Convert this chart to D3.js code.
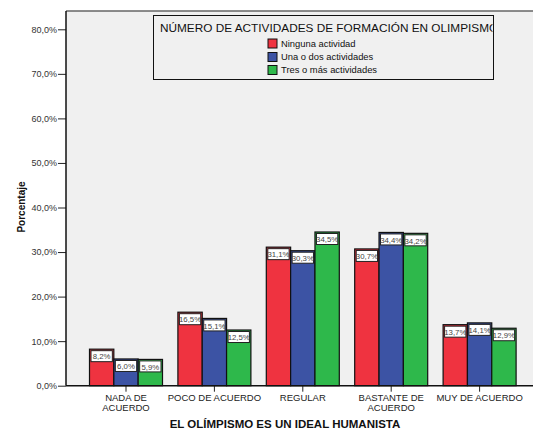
<!DOCTYPE html>
<html><head><meta charset="utf-8">
<script src="https://cdn.jsdelivr.net/npm/d3@7"></script>
<style>body{margin:0;background:#fff}svg{display:block;font-family:"Liberation Sans",Arial,sans-serif}</style>
</head><body>
<script>
const categories = [["NADA DE","ACUERDO"],["POCO DE ACUERDO"],["REGULAR"],["BASTANTE DE","ACUERDO"],["MUY DE ACUERDO"]];
const seriesNames = ["Ninguna actividad","Una o dos actividades","Tres o más actividades"];
const ninguna = [8.2, 16.5, 31.1, 30.7, 13.7];
const unaODos = [6.0, 15.1, 30.3, 34.4, 14.1];
const tresOMas = [5.9, 12.5, 34.5, 34.2, 12.9];
const yTicks = [0,10,20,30,40,50,60,70,80];
const colors = ["#ef3340","#3c53a4","#2eb84b"];
const series = [ninguna, unaODos, tresOMas];

const W=533,H=434;
const svg=d3.select("body").append("svg").attr("width",W).attr("height",H);
const pLeft=66, pTop=11, pBottom=385.7;
const y=d3.scaleLinear().domain([0,80]).range([pBottom,29.3]);
const catKeys=categories.map(c=>c.join(" "));
const x=d3.scaleBand().domain(catKeys).range([81.8,523.8]).padding(0);
const groupW=73;
const xs=d3.scaleBand().domain(d3.range(3)).range([0,groupW]);

// plot background
svg.append("rect").attr("x",pLeft).attr("y",pTop).attr("width",W-pLeft).attr("height",pBottom-pTop).attr("fill","#f0f0f0");
svg.append("line").attr("x1",pLeft).attr("x2",W).attr("y1",pTop).attr("y2",pTop).attr("stroke","#666").attr("stroke-width",1.5);

// bars
const fmt=v=>d3.format(".1f")(v).replace(".",",")+"%";
catKeys.forEach((k,i)=>{
  const g=svg.append("g").attr("transform",`translate(${x(k)+x.bandwidth()/2-groupW/2},0)`);
  series.forEach((s,j)=>{
    const bx=xs(j), bw=xs.bandwidth(), by=y(s[i]);
    g.append("rect").attr("x",bx).attr("y",by).attr("width",bw).attr("height",pBottom-by)
      .attr("fill",colors[j]).attr("stroke","#111").attr("stroke-width",1.2);
    g.append("rect").attr("x",bx+1.5).attr("y",by+1.5).attr("width",bw-3).attr("height",11)
      .attr("fill","#fff").attr("stroke","#222").attr("stroke-width",1);
    g.append("text").attr("x",bx+bw/2).attr("y",by+10.2).attr("text-anchor","middle")
      .attr("font-size",7.8).attr("fill","#444").text(fmt(s[i]));
  });
});

// y axis
const ya=svg.append("g").attr("transform",`translate(${pLeft},0)`)
  .call(d3.axisLeft(y).tickValues(yTicks).tickSize(8).tickPadding(1).tickFormat(v=>d3.format(".1f")(v).replace(".",",")+"%"));
ya.select(".domain").remove();
ya.selectAll("text").attr("font-size",9).attr("fill","#333").attr("font-family","Liberation Sans, Arial, sans-serif");
ya.selectAll("line").attr("stroke","#222");
svg.append("line").attr("x1",pLeft).attr("x2",pLeft).attr("y1",pTop).attr("y2",pBottom).attr("stroke","#111").attr("stroke-width",1.5);

// x axis
const xa=svg.append("g").attr("transform",`translate(0,${pBottom})`)
  .call(d3.axisBottom(x).tickSize(6).tickFormat(""));
xa.select(".domain").remove();
xa.selectAll("line").attr("stroke","#222");
svg.append("line").attr("x1",pLeft).attr("x2",W).attr("y1",pBottom).attr("y2",pBottom).attr("stroke","#111").attr("stroke-width",1.5);
categories.forEach((c,i)=>{
  const cx=x(catKeys[i])+x.bandwidth()/2;
  c.forEach((line,l)=>svg.append("text").attr("x",cx).attr("y",400.5+l*10).attr("text-anchor","middle")
    .attr("font-size",9.5).attr("fill","#222").text(line));
});

// titles
svg.append("text").attr("x",285).attr("y",428).attr("text-anchor","middle").attr("font-size",11.5).attr("font-weight","bold").attr("fill","#111").text("EL OLÍMPISMO ES UN IDEAL HUMANISTA");
svg.append("text").attr("transform","translate(25,207) rotate(-90)").attr("text-anchor","middle").attr("font-size",10).attr("font-weight","bold").attr("fill","#111").text("Porcentaje");

// legend
const lg={x:153.5,y:15.5,w:340,h:64};
svg.append("clipPath").attr("id","lgclip").append("rect").attr("x",lg.x).attr("y",lg.y).attr("width",lg.w-1).attr("height",lg.h);
svg.append("rect").attr("x",lg.x).attr("y",lg.y).attr("width",lg.w).attr("height",lg.h).attr("fill","#f0f0f0").attr("stroke","#111").attr("stroke-width",1);
svg.append("text").attr("clip-path","url(#lgclip)").attr("x",160).attr("y",31.5).attr("font-size",11.8).attr("fill","#111").text("NÚMERO DE ACTIVIDADES DE FORMACIÓN EN OLIMPISMO");
seriesNames.forEach((n,j)=>{
  const cy=[43.5,57,70][j];
  svg.append("rect").attr("x",268).attr("y",cy-4.5).attr("width",9).attr("height",9).attr("fill",colors[j]).attr("stroke","#111").attr("stroke-width",1);
  svg.append("text").attr("x",281).attr("y",cy+3.2).attr("font-size",9.4).attr("fill","#111").text(n);
});
</script>
</body></html>
